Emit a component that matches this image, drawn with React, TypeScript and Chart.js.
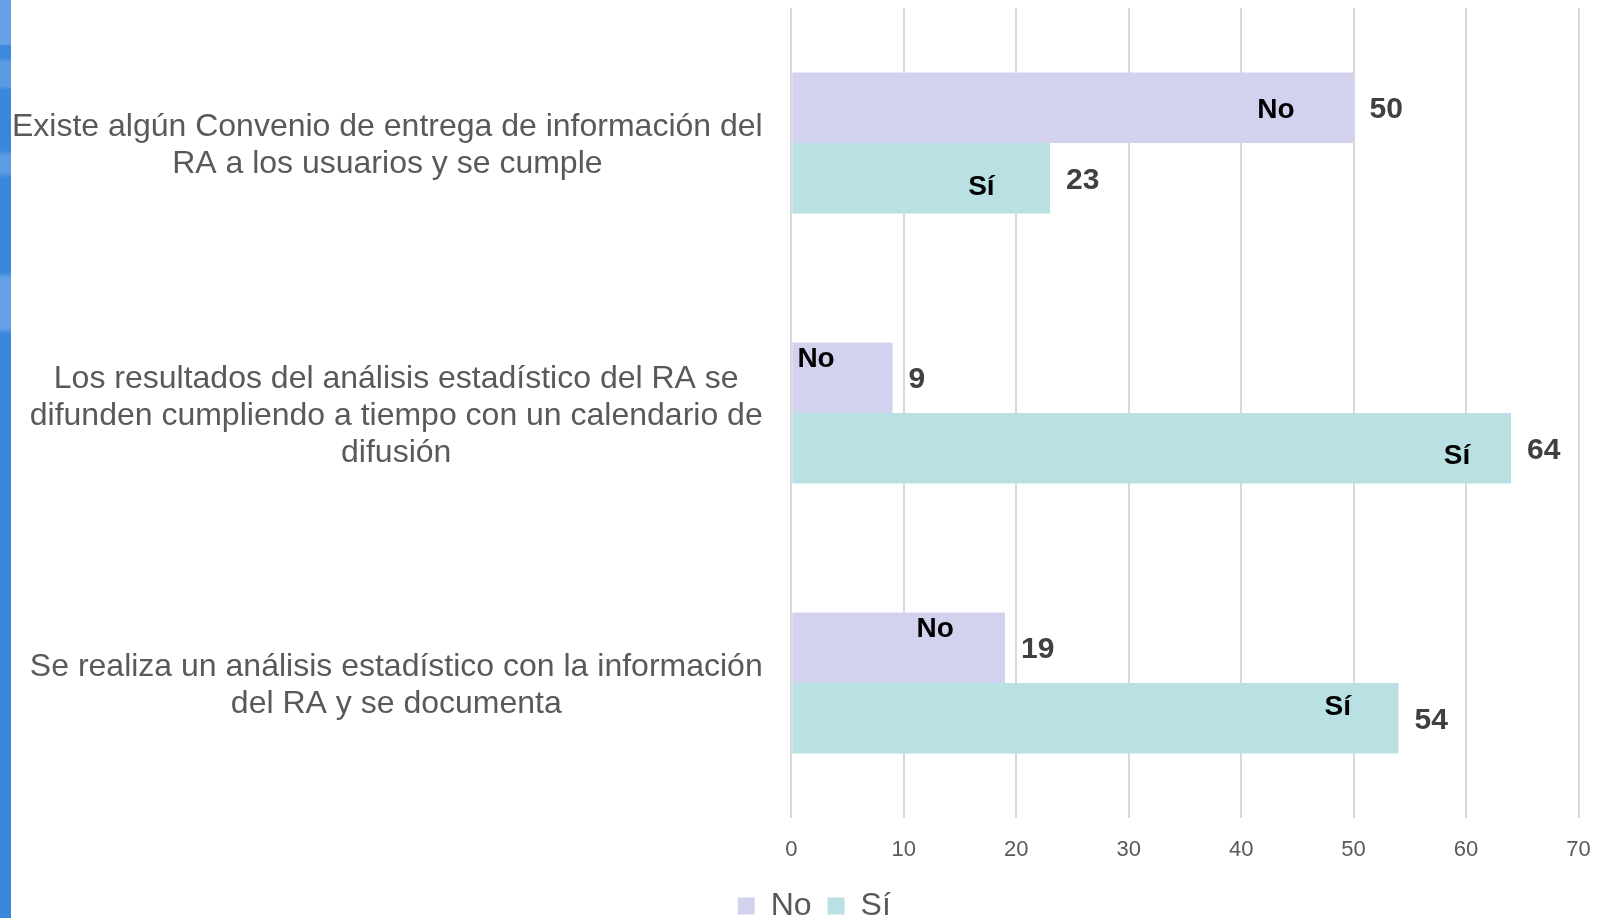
import React, { useEffect, useRef } from "react";
import { Chart, registerables } from "chart.js";

Chart.register(...registerables);

// ---- Data ----
const categories: string[][] = [
  ["Existe algún Convenio de entrega de información del", "RA a los usuarios y se cumple"],
  ["Los resultados del análisis estadístico del RA se", "difunden cumpliendo a tiempo con un calendario de", "difusión"],
  ["Se realiza un análisis estadístico con la información", "del RA y se documenta"],
];
const seriesNames = ["No", "Sí"];
const noValues = [50, 9, 19];
const siValues = [23, 64, 54];
const xTickMin = 0;
const xTickMax = 70;
const xTickStep = 10;

// series-name labels placed inside bars (value units on x, pixel offset on y)
const nameLabelX = [
  [43.1, 2.2, 12.8],
  [16.9, 59.2, 48.6],
];
const nameLabelDy = [
  [0, -21, -21],
  [6, 5, -13.5],
];

const FONT = "'Liberation Sans', Arial, Helvetica, sans-serif";
const COLOR_NO = "#d2d2ef";
const COLOR_SI = "#b9e0e3";
const PAD_LEFT = 50;
const PAD_RIGHT = 24.5;
const PLOT_LEFT = 791.3;

const labelPlugin = {
  id: "customLabels",
  afterDatasetsDraw(chart: any) {
    const ctx = chart.ctx;
    const xs = chart.scales.x;
    const sets = [noValues, siValues];
    ctx.save();
    sets.forEach((vals, di) => {
      const meta = chart.getDatasetMeta(di);
      meta.data.forEach((bar: any, j: number) => {
        ctx.font = `bold 30px ${FONT}`;
        ctx.fillStyle = "#404040";
        ctx.textAlign = "left";
        ctx.textBaseline = "middle";
        ctx.fillText(String(vals[j]), bar.x + 16, bar.y + 2);
        ctx.font = `bold 28px ${FONT}`;
        ctx.fillStyle = "#000000";
        ctx.textAlign = "center";
        ctx.fillText(
          seriesNames[di],
          xs.getPixelForValue(nameLabelX[di][j]),
          bar.y + nameLabelDy[di][j] + 3
        );
      });
    });
    ctx.restore();
  },
  afterDraw(chart: any) {
    const ctx = chart.ctx;
    const ys = chart.scales.y;
    const right = chart.chartArea.left - 28.6;
    const lineH = 36.8;
    ctx.save();
    ctx.font = `32px ${FONT}`;
    ctx.fillStyle = "#595959";
    ctx.textAlign = "center";
    ctx.textBaseline = "middle";
    categories.forEach((lines, i) => {
      const yc = ys.getPixelForTick(i) + 3;
      const w = Math.max(...lines.map((l) => ctx.measureText(l).width));
      const cx = right - w / 2;
      lines.forEach((l, k) => {
        ctx.fillText(l, cx, yc + (k - (lines.length - 1) / 2) * lineH);
      });
    });
    ctx.restore();
  },
};

export default function App() {
  const ref = useRef<HTMLCanvasElement | null>(null);

  useEffect(() => {
    if (!ref.current) return;
    const chart = new Chart(ref.current, {
      type: "bar",
      data: {
        labels: categories,
        datasets: [
          {
            label: seriesNames[0],
            data: noValues,
            backgroundColor: COLOR_NO,
            borderWidth: 0,
            categoryPercentage: 0.522,
            barPercentage: 1,
          },
          {
            label: seriesNames[1],
            data: siValues,
            backgroundColor: COLOR_SI,
            borderWidth: 0,
            categoryPercentage: 0.522,
            barPercentage: 1,
          },
        ],
      },
      options: {
        indexAxis: "y",
        responsive: false,
        animation: false,
        devicePixelRatio: 1,
        layout: { padding: { top: 8, left: PAD_LEFT, right: PAD_RIGHT, bottom: -14 } },
        scales: {
          x: {
            min: xTickMin,
            max: xTickMax,
            position: "bottom",
            ticks: {
              stepSize: xTickStep,
              color: "#595959",
              font: { family: FONT, size: 22 },
              padding: 19,
              maxRotation: 0,
            },
            grid: { color: "#d9d9d9", lineWidth: 2, drawTicks: false },
            border: { display: false },
            afterFit: (s: any) => {
              s.height = 56;
              s.paddingLeft = 0;
              s.paddingRight = 0;
            },
          },
          y: {
            ticks: { display: false },
            grid: { display: false },
            border: { display: false },
            afterFit: (s: any) => {
              s.width = PLOT_LEFT - PAD_LEFT;
            },
          },
        },
        plugins: {
          legend: {
            position: "bottom",
            labels: {
              boxWidth: 17,
              boxHeight: 17,
              padding: 16,
              color: "#595959",
              font: { family: FONT, size: 32 },
            },
          },
          tooltip: { enabled: false },
        },
      },
      plugins: [labelPlugin],
    });
    return () => chart.destroy();
  }, []);

  const stripe =
    "linear-gradient(to bottom, #64a2e5 0px, #64a2e5 44px, #3d89dc 46px, #3d89dc 58px, #5b9be2 62px, #5b9be2 86px, #3a87db 90px, #3a87db 150px, #5c9ce3 156px, #5c9ce3 172px, #3a87db 178px, #3a87db 272px, #64a2e5 278px, #64a2e5 328px, #3a87db 334px, #3987da 918px)";

  return (
    <div
      style={{
        position: "fixed",
        left: 0,
        top: 0,
        width: 1603,
        height: 918,
        background: "#ffffff",
        overflow: "hidden",
      }}
    >
      <div
        style={{
          position: "absolute",
          left: 0,
          top: 0,
          width: 11,
          height: 918,
          background: stripe,
        }}
      />
      <canvas
        ref={ref}
        width={1603}
        height={918}
        style={{ position: "absolute", left: 0, top: 0, width: 1603, height: 918 }}
      />
    </div>
  );
}
